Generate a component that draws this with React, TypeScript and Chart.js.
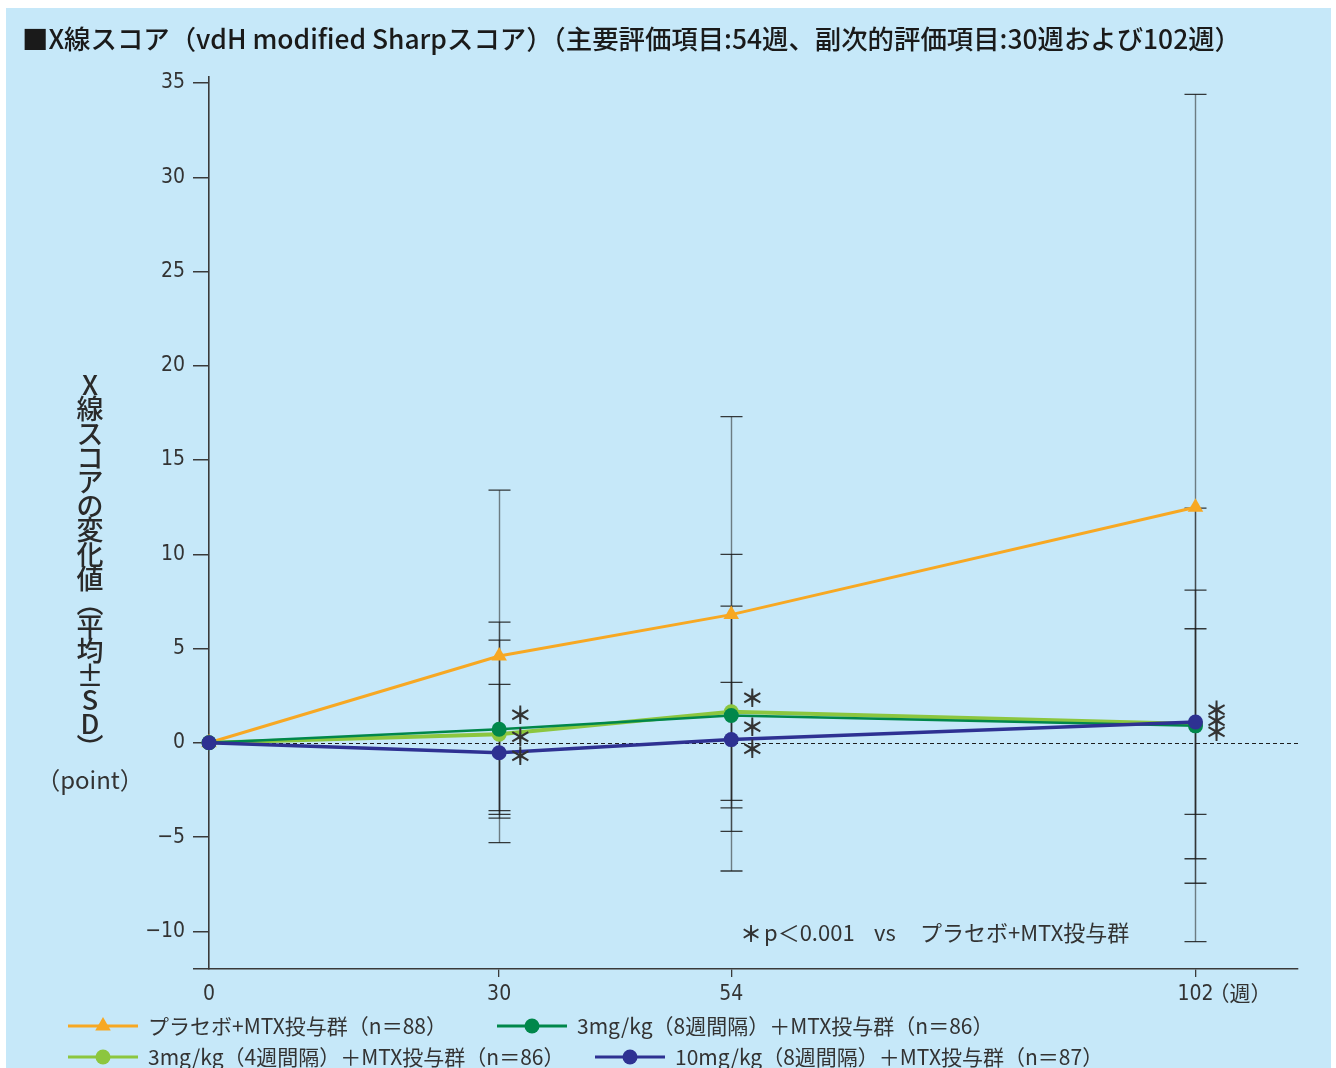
import React, { useEffect, useRef } from "react";
import { Chart, registerables } from "chart.js";

Chart.register(...registerables);

// ---- data ----
const weeks = [0, 30, 54, 102];

const placeboMean = [0, 4.6, 6.8, 12.5];
const placeboHigh = [0, 13.4, 17.3, 34.4];
const placeboLow = [0, -4.0, -3.45, -10.55];

const q8w3Mean = [0, 0.72, 1.45, 0.9];
const q8w3High = [0, 5.45, 7.25, 8.1];
const q8w3Low = [0, -3.8, -4.7, -6.15];

const q4w3Mean = [0, 0.45, 1.65, 1.0];
const q4w3High = [0, 6.4, 10.0, 12.45];
const q4w3Low = [0, -5.3, -6.8, -7.45];

const q8w10Mean = [0, -0.53, 0.17, 1.1];
const q8w10High = [0, 3.1, 3.2, 6.05];
const q8w10Low = [0, -3.6, -3.05, -3.8];

const seriesLabels = [
  "プラセボ+MTX投与群（n＝88）",
  "3mg/kg（8週間隔）＋MTX投与群（n＝86）",
  "3mg/kg（4週間隔）＋MTX投与群（n＝86）",
  "10mg/kg（8週間隔）＋MTX投与群（n＝87）",
];

const yTickValues = [-12, -10, -5, 0, 5, 10, 15, 20, 25, 30, 35];
const xTickValues = [0, 30, 54, 102];

// significance marks (week, score)
const sigMarks = [
  { week: 30, y: 1.48 },
  { week: 30, y: 0.33 },
  { week: 30, y: -0.69 },
  { week: 54, y: 2.4 },
  { week: 54, y: 0.86 },
  { week: 54, y: -0.33 },
  { week: 102, y: 1.75 },
  { week: 102, y: 1.18 },
  { week: 102, y: 0.6 },
];

const titleText =
  "■X線スコア（vdH modified Sharpスコア）（主要評価項目:54週、副次的評価項目:30週および102週）";
const yTitleText = "X線スコアの変化値（平均±SD）";
const yUnitText = "（point）";
const xUnitText = "（週）";
const noteParts = ["＊", "p＜0.001", "vs", "プラセボ+MTX投与群"];

// ---- styling ----
const ORANGE = "#F7A823";
const DARK_GREEN = "#00874B";
const LIGHT_GREEN = "#8CC63F";
const NAVY = "#2E3192";
const BG = "#C6E8F9";
const INK = "#2a2a2a";
const JP = "'Noto Sans CJK JP', 'Noto Sans', sans-serif";
const NUM = "'Liberation Sans Narrow', 'DejaVu Sans Condensed', 'Noto Sans CJK JP', sans-serif";

const toPoints = (ys: number[]) => weeks.map((w, i) => ({ x: w, y: ys[i] }));

const errorBarPlugin = {
  id: "errorBars",
  beforeDatasetsDraw(chart: any) {
    const { ctx, chartArea, scales } = chart;
    const x = scales.x;
    const y = scales.y;
    ctx.save();
    // zero reference line
    ctx.strokeStyle = "#1e1e1e";
    ctx.lineWidth = 1;
    ctx.setLineDash([4, 3]);
    const y0 = Math.round(y.getPixelForValue(0)) + 0.5;
    ctx.beginPath();
    ctx.moveTo(chartArea.left, y0);
    ctx.lineTo(chartArea.right, y0);
    ctx.stroke();
    ctx.setLineDash([]);

    chart.data.datasets.forEach((ds: any) => {
      ds.errHigh.forEach((hi: number, i: number) => {
        const lo = ds.errLow[i];
        if (hi === lo) return;
        const px = Math.round(x.getPixelForValue(weeks[i])) + 0.5;
        const top = y.getPixelForValue(hi);
        const bot = y.getPixelForValue(lo);
        ctx.strokeStyle = "rgba(35,35,35,0.55)";
        ctx.lineWidth = 1.4;
        ctx.beginPath();
        ctx.moveTo(px, top);
        ctx.lineTo(px, bot);
        ctx.stroke();
        ctx.strokeStyle = "rgba(25,25,25,0.85)";
        ctx.lineWidth = 1.3;
        ctx.beginPath();
        ctx.moveTo(px - 11, top);
        ctx.lineTo(px + 11, top);
        ctx.moveTo(px - 11, bot);
        ctx.lineTo(px + 11, bot);
        ctx.stroke();
      });
    });
    ctx.restore();
  },
};

const drawMarker = (ctx: any, style: string, color: string, cx: number, cy: number, r: number) => {
  ctx.fillStyle = color;
  ctx.beginPath();
  if (style === "triangle") {
    ctx.moveTo(cx, cy - r);
    ctx.lineTo(cx + r * 0.866, cy + r * 0.5);
    ctx.lineTo(cx - r * 0.866, cy + r * 0.5);
    ctx.closePath();
  } else {
    ctx.arc(cx, cy, r, 0, Math.PI * 2);
  }
  ctx.fill();
};

const annotationPlugin = {
  id: "annotations",
  afterDraw(chart: any) {
    const { ctx, scales } = chart;
    const x = scales.x;
    const y = scales.y;
    ctx.save();

    // title
    ctx.fillStyle = "#1a1a1a";
    ctx.font = `500 26.4px ${JP}`;
    ctx.textAlign = "left";
    ctx.textBaseline = "middle";
    ctx.fillText(titleText, 22, 39);

    // vertical axis title
    ctx.fillStyle = INK;
    ctx.font = `500 27px ${JP}`;
    ctx.textAlign = "center";
    const chars = Array.from(yTitleText).map((c) => (c === "（" ? "︵" : c === "）" ? "︶" : c));
    chars.forEach((c, i) => {
      ctx.fillText(c, 90, 385 + i * 24.2);
    });
    ctx.font = `24px ${JP}`;
    ctx.fillStyle = "#333";
    ctx.fillText(yUnitText, 90, 780);

    // unit after the last x label
    const lastTick = xTickValues[xTickValues.length - 1];
    ctx.font = `21px ${NUM}`;
    const numW = ctx.measureText(String(lastTick)).width;
    ctx.font = `21px ${JP}`;
    ctx.textAlign = "left";
    ctx.fillStyle = "#333";
    ctx.fillText(xUnitText, x.getPixelForValue(lastTick) + numW / 2 - 5, 993);

    // significance marks
    ctx.font = `bold 24px ${JP}`;
    ctx.textAlign = "center";
    ctx.fillStyle = "#333";
    sigMarks.forEach((m) => {
      ctx.fillText("＊", x.getPixelForValue(m.week) + 21, y.getPixelForValue(m.y));
    });

    // note
    ctx.textAlign = "left";
    ctx.font = `bold 22px ${JP}`;
    ctx.fillText(noteParts[0], 740, 934);
    ctx.font = `22px ${JP}`;
    ctx.fillText(noteParts[1], 764, 933);
    ctx.fillText(noteParts[2], 874, 933);
    ctx.fillText(noteParts[3], 920, 933);

    // legend
    const slots = [
      { x: 68, y: 1026 },
      { x: 497, y: 1026 },
      { x: 68, y: 1057 },
      { x: 595, y: 1057 },
    ];
    chart.data.datasets.forEach((ds: any, i: number) => {
      const s = slots[i];
      ctx.strokeStyle = ds.borderColor;
      ctx.lineWidth = 3;
      ctx.beginPath();
      ctx.moveTo(s.x, s.y);
      ctx.lineTo(s.x + 70, s.y);
      ctx.stroke();
      drawMarker(ctx, ds.pointStyle, ds.borderColor, s.x + 35, s.y, ds.pointStyle === "triangle" ? 9 : 7.5);
      ctx.fillStyle = "#333";
      ctx.font = `21px ${JP}`;
      ctx.textAlign = "left";
      ctx.textBaseline = "middle";
      ctx.fillText(ds.label, s.x + 80, s.y);
    });

    ctx.restore();
  },
};

export default function App() {
  const canvasRef = useRef<HTMLCanvasElement | null>(null);

  useEffect(() => {
    const canvas = canvasRef.current;
    if (!canvas) return;
    const chart = new Chart(canvas, {
      type: "line",
      data: {
        datasets: [
          {
            label: seriesLabels[0],
            data: toPoints(placeboMean),
            errHigh: placeboHigh,
            errLow: placeboLow,
            borderColor: ORANGE,
            backgroundColor: ORANGE,
            borderWidth: 3,
            pointStyle: "triangle",
            pointRadius: 9,
            pointBorderWidth: 0,
            order: 3,
            clip: false,
          },
          {
            label: seriesLabels[1],
            data: toPoints(q8w3Mean),
            errHigh: q8w3High,
            errLow: q8w3Low,
            borderColor: DARK_GREEN,
            backgroundColor: DARK_GREEN,
            borderWidth: 2.5,
            pointStyle: "circle",
            pointRadius: 7.5,
            pointBorderWidth: 0,
            order: 1,
            clip: false,
          },
          {
            label: seriesLabels[2],
            data: toPoints(q4w3Mean),
            errHigh: q4w3High,
            errLow: q4w3Low,
            borderColor: LIGHT_GREEN,
            backgroundColor: LIGHT_GREEN,
            borderWidth: 4,
            pointStyle: "circle",
            pointRadius: 7.5,
            pointBorderWidth: 0,
            order: 2,
            clip: false,
          },
          {
            label: seriesLabels[3],
            data: toPoints(q8w10Mean),
            errHigh: q8w10High,
            errLow: q8w10Low,
            borderColor: NAVY,
            backgroundColor: NAVY,
            borderWidth: 3.5,
            pointStyle: "circle",
            pointRadius: 7.5,
            pointBorderWidth: 0,
            order: 0,
            clip: false,
          },
        ] as any,
      },
      options: {
        responsive: false,
        animation: false,
        events: [],
        layout: { padding: { left: 0, top: 77, right: 38, bottom: 59 } },
        plugins: {
          legend: { display: false },
          title: { display: false },
          tooltip: { enabled: false },
        },
        scales: {
          x: {
            type: "linear",
            min: 0,
            max: 112.6,
            afterBuildTicks: (scale: any) => {
              scale.ticks = xTickValues.map((v) => ({ value: v }));
            },
            afterFit: (scale: any) => {
              scale.height = 40;
            },
            border: { color: "#3a3a3a", width: 1.6 },
            grid: {
              drawOnChartArea: false,
              tickLength: 8,
              lineWidth: 1.3,
              tickColor: (c: any) => (c.tick && c.tick.value === 0 ? "rgba(0,0,0,0)" : "#3a3a3a"),
            },
            ticks: {
              padding: 5,
              color: "#333",
              font: { family: NUM, size: 21 },
              maxRotation: 0,
              autoSkip: false,
              callback: (v: any) => String(v),
            },
          },
          y: {
            type: "linear",
            min: -12,
            max: 35.32,
            afterBuildTicks: (scale: any) => {
              scale.ticks = yTickValues.map((v) => ({ value: v }));
            },
            afterFit: (scale: any) => {
              scale.width = 209;
            },
            border: { color: "#3a3a3a", width: 1.6 },
            grid: {
              drawOnChartArea: false,
              tickLength: 16,
              lineWidth: 1.5,
              tickColor: "#3a3a3a",
            },
            ticks: {
              padding: 8,
              color: "#333",
              font: { family: NUM, size: 21 },
              autoSkip: false,
              callback: (v: any) => (v === -12 ? "" : v < 0 ? "−" + Math.abs(v) : String(v)),
            },
          },
        },
      } as any,
      plugins: [errorBarPlugin, annotationPlugin],
    });
    return () => chart.destroy();
  }, []);

  return (
    <div style={{ position: "absolute", left: 0, top: 0, width: 1336, height: 1068, background: "#fff", overflow: "hidden" }}>
      <div style={{ position: "absolute", left: 6, top: 8, width: 1325, height: 1060, background: BG }} />
      <canvas ref={canvasRef} width={1336} height={1068} style={{ position: "absolute", left: 0, top: 0 }} />
    </div>
  );
}
